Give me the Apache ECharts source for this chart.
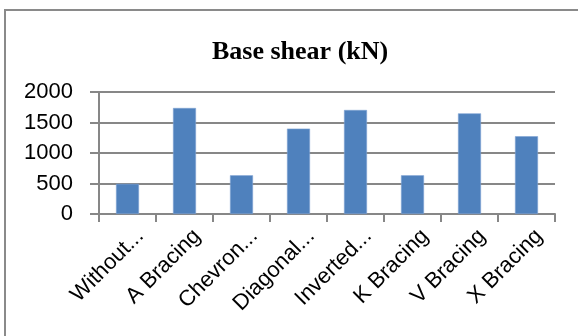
<!DOCTYPE html>
<html>
<head>
<meta charset="utf-8">
<script src="https://cdn.jsdelivr.net/npm/echarts@6/dist/echarts.min.js"></script>
<style>
html,body{margin:0;padding:0;background:#fff;}
#chart{width:578px;height:336px;}
</style>
</head>
<body>
<div id="chart"></div>
<script>
const categories = ["Without...", "A Bracing", "Chevron...", "Diagonal...", "Inverted...", "K Bracing", "V Bracing", "X Bracing"];
const baseShear = [495, 1738, 635, 1400, 1705, 635, 1650, 1275];
const yTicks = { min: 0, max: 2000, interval: 500 };
const chartTitle = "Base shear (kN)";

const chart = echarts.init(document.getElementById('chart'), null, { renderer: 'canvas' });
const gridColor = '#878787';
chart.setOption({
  animation: false,
  backgroundColor: '#ffffff',
  title: {
    text: chartTitle,
    left: 207,
    top: 34,
    textStyle: { fontFamily: 'Liberation Serif', fontWeight: 'bold', fontSize: 26, color: '#000' }
  },
  graphic: [{
    type: 'rect',
    shape: { x: 5, y: 10, width: 620, height: 400 },
    style: { fill: 'none', stroke: '#8a8a8a', lineWidth: 2 },
    silent: true
  }],
  grid: { left: 99, right: 23, top: 92, bottom: 122 },
  xAxis: {
    type: 'category',
    data: categories,
    axisLine: { lineStyle: { color: gridColor, width: 2 } },
    axisTick: { show: true, length: 8, interval: 0, alignWithLabel: false, lineStyle: { color: gridColor, width: 2 } },
    axisLabel: { interval: 0, rotate: 45, margin: 6, verticalAlign: 'top', padding: [7, 0, 0, 0],
      fontFamily: 'Liberation Sans', fontSize: 22, color: '#000' }
  },
  yAxis: {
    type: 'value',
    min: yTicks.min, max: yTicks.max, interval: yTicks.interval,
    axisLine: { show: true, lineStyle: { color: gridColor, width: 2 } },
    axisTick: { show: true, length: 9, lineStyle: { color: gridColor, width: 2 } },
    splitLine: { lineStyle: { color: gridColor, width: 2 } },
    axisLabel: { margin: 26, fontFamily: 'Liberation Sans', fontSize: 22, color: '#000', formatter: v => String(v) }
  },
  series: [{
    type: 'bar',
    data: baseShear,
    barWidth: 23,
    itemStyle: { color: '#4F81BD', borderColor: '#7FA3D3', borderWidth: 0.6 }
  }]
});
</script>
</body>
</html>
